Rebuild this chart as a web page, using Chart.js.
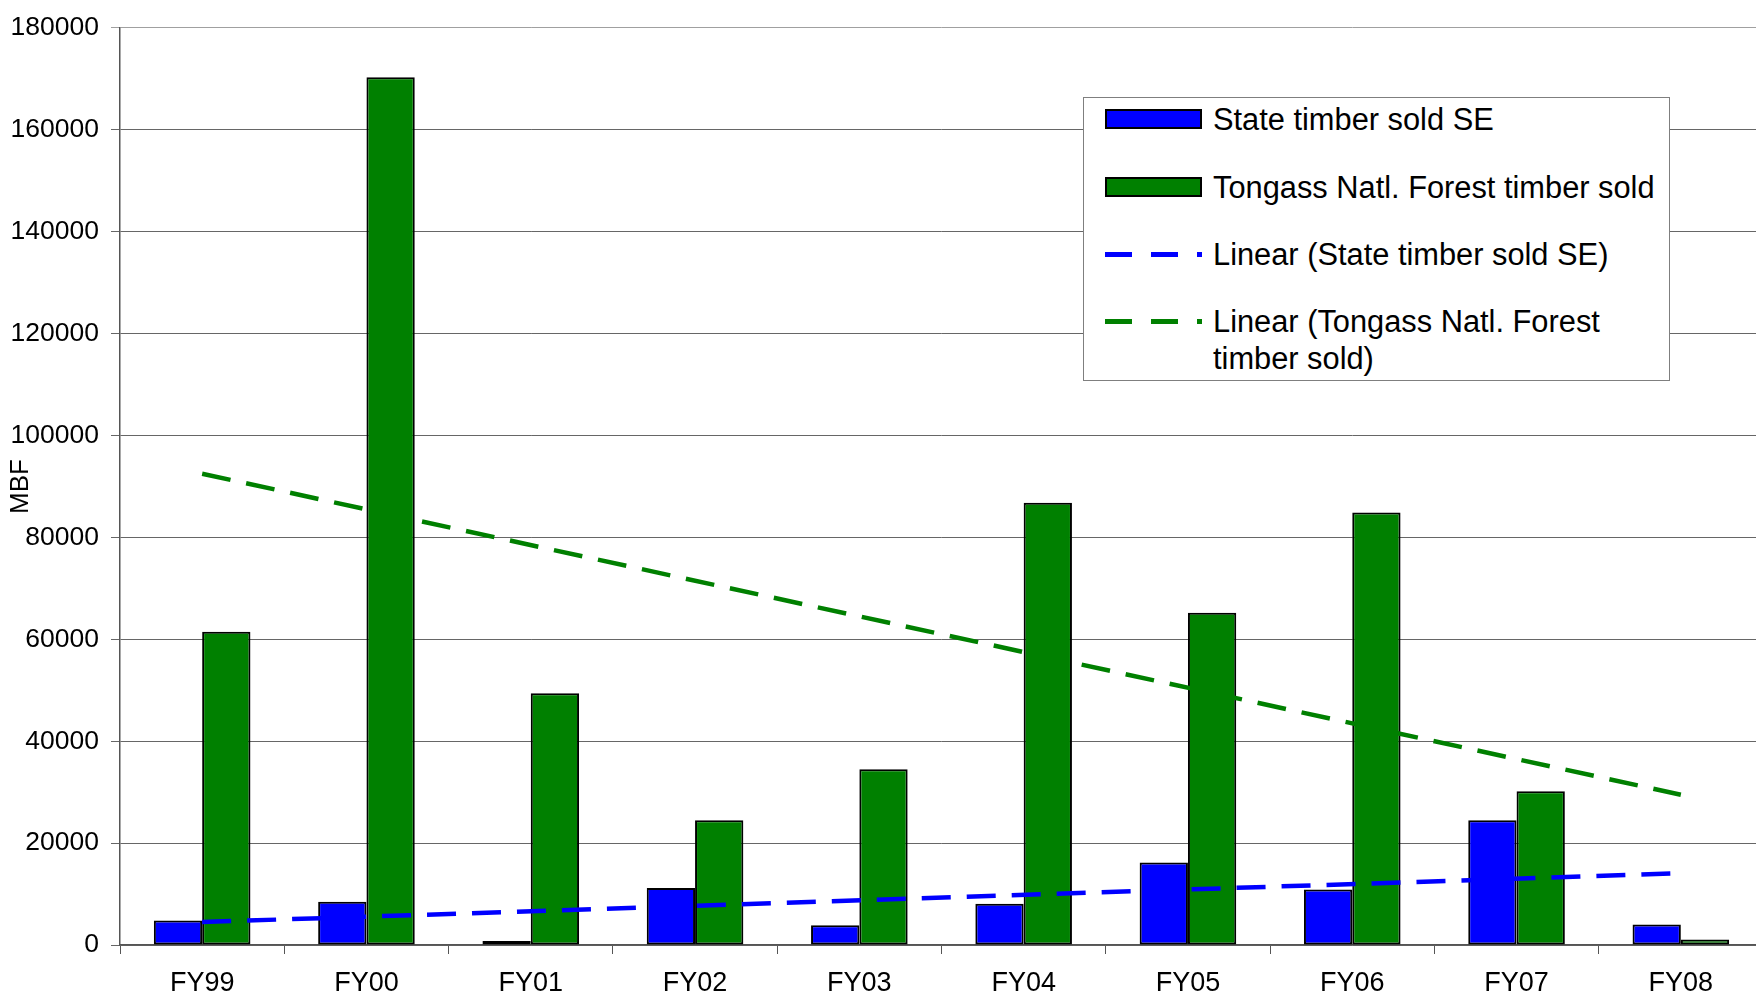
<!DOCTYPE html>
<html lang="en">
<head>
  <meta charset="UTF-8">
  <title>Timber sold SE Alaska FY99 - FY08</title>
  <script src="https://cdn.jsdelivr.net/npm/chart.js"></script>
  <style>
    html, body {
      margin: 0;
      padding: 0;
      background: #fff;
      overflow: hidden;
    }

    body {
      width: 1756px;
      height: 996px;
      position: relative;
      font-family: 'Liberation Sans', Arial, sans-serif;
    }

    #chartBox {
      position: absolute;
      left: 0;
      top: 0;
    }

    /* legend box sits inside the plot, top right */
    .legend {
      position: absolute;
      left: 1083px;
      top: 97px;
      width: 587px;
      height: 284px;
      box-sizing: border-box;
      border: 1px solid #7f7f7f;
      background: #fff;
    }

    .legend .row {
      position: absolute;
      left: 21px;
      width: 560px;
      height: 74px;
    }

    .legend .swatch {
      position: absolute;
      left: 0;
      width: 97px;
    }

    .legend .swatch.bar {
      top: 8px;
      height: 20px;
      box-sizing: border-box;
      border: 2px solid #000;
    }

    .legend .swatch.dash {
      top: 16px;
      height: 4.5px;
    }

    .legend .text {
      position: absolute;
      left: 108px;
      top: 0;
      width: 450px;
      font-size: 30.8px;
      line-height: 37px;
      color: #000;
      white-space: normal;
    }
  </style>
</head>
<body>
  <canvas id="chartBox" width="1776" height="996"></canvas>
  <div class="legend" id="legend"></div>

  <script>
    const fiscalYears = ['FY99', 'FY00', 'FY01', 'FY02', 'FY03', 'FY04', 'FY05', 'FY06', 'FY07', 'FY08'];

    // MBF
    const stateSold   = [4800, 8500, 800, 11200, 3900, 8100, 16200, 10900, 24500, 4000];
    const tongassSold = [61500, 170300, 49400, 24500, 34500, 86800, 65200, 84900, 30200, 1100];

    // trend lines: value at FY99 and at FY08
    const stateTrendEnds   = [4500, 14100];
    const tongassTrendEnds = [92500, 29500];

    const yTicks = [0, 20000, 40000, 60000, 80000, 100000, 120000, 140000, 160000, 180000];

    const seriesNames = [
      'State timber sold SE',
      'Tongass Natl. Forest timber sold',
      'Linear (State timber sold SE)',
      'Linear (Tongass Natl. Forest timber sold)'
    ];

    const blue = '#0000ff';
    const green = '#008000';

    Chart.defaults.font.family = "'Liberation Sans', Arial, sans-serif";
    Chart.defaults.color = '#000';

    const first = fiscalYears[0];
    const last = fiscalYears[fiscalYears.length - 1];

    const ctx = document.getElementById('chartBox').getContext('2d');
    const chart = new Chart(ctx, {
      type: 'bar',
      data: {
        labels: fiscalYears,
        datasets: [
          {
            label: seriesNames[0],
            data: stateSold,
            backgroundColor: blue,
            borderColor: '#000',
            borderWidth: 2,
            borderSkipped: false,
            categoryPercentage: 0.588,
            barPercentage: 1,
            order: 1
          },
          {
            label: seriesNames[1],
            data: tongassSold,
            backgroundColor: green,
            borderColor: '#000',
            borderWidth: 2,
            borderSkipped: false,
            categoryPercentage: 0.588,
            barPercentage: 1,
            order: 1
          },
          {
            type: 'line',
            label: seriesNames[2],
            data: [{ x: first, y: stateTrendEnds[0] }, { x: last, y: stateTrendEnds[1] }],
            borderColor: blue,
            borderWidth: 4.5,
            borderDash: [29, 16],
            pointRadius: 0,
            fill: false,
            order: 0
          },
          {
            type: 'line',
            label: seriesNames[3],
            data: [{ x: first, y: tongassTrendEnds[0] }, { x: last, y: tongassTrendEnds[1] }],
            borderColor: green,
            borderWidth: 4.5,
            borderDash: [29, 16],
            pointRadius: 0,
            fill: false,
            order: 0
          }
        ]
      },
      options: {
        responsive: false,
        animation: false,
        layout: {
          autoPadding: false,
          padding: { top: 22, right: 13, bottom: 0, left: 0 }
        },
        plugins: {
          legend: { display: false },
          tooltip: { enabled: false }
        },
        scales: {
          x: {
            offset: true,
            grid: {
              offset: true,
              drawOnChartArea: false,
              drawTicks: true,
              tickLength: 9,
              color: '#555'
            },
            border: { color: '#555', width: 1.5 },
            ticks: {
              font: { size: 27 },
              padding: 13,
              maxRotation: 0,
              autoSkip: false
            },
            afterFit: s => { s.height = 51; }
          },
          y: {
            min: 0,
            max: 180000,
            afterBuildTicks: s => { s.ticks = yTicks.map(v => ({ value: v })); },
            grid: {
              color: c => c.tick && c.tick.value === 180000 ? '#a0a0a0' : '#666',
              lineWidth: 1,
              tickLength: 9
            },
            border: { color: '#555', width: 1.5 },
            ticks: {
              font: { size: 26.5 },
              padding: 12,
              callback: v => String(v)
            },
            title: {
              display: true,
              text: 'MBF',
              font: { size: 26 },
              padding: { top: 5, bottom: 0 }
            },
            afterFit: s => { s.width = 120; }
          }
        }
      }
    });

    // html legend built from the datasets
    const legend = document.getElementById('legend');
    const rowTops = [3, 71, 138, 205];
    chart.data.datasets.forEach((ds, i) => {
      const row = document.createElement('div');
      row.className = 'row';
      row.style.top = rowTops[i] + 'px';
      const sw = document.createElement('div');
      if (ds.type === 'line') {
        sw.className = 'swatch dash';
        sw.style.background = `repeating-linear-gradient(to right, ${ds.borderColor} 0 27px, transparent 27px 46px)`;
      } else {
        sw.className = 'swatch bar';
        sw.style.background = ds.backgroundColor;
      }
      const tx = document.createElement('div');
      tx.className = 'text';
      tx.textContent = ds.label;
      row.appendChild(sw);
      row.appendChild(tx);
      legend.appendChild(row);
    });
  </script>
</body>
</html>
